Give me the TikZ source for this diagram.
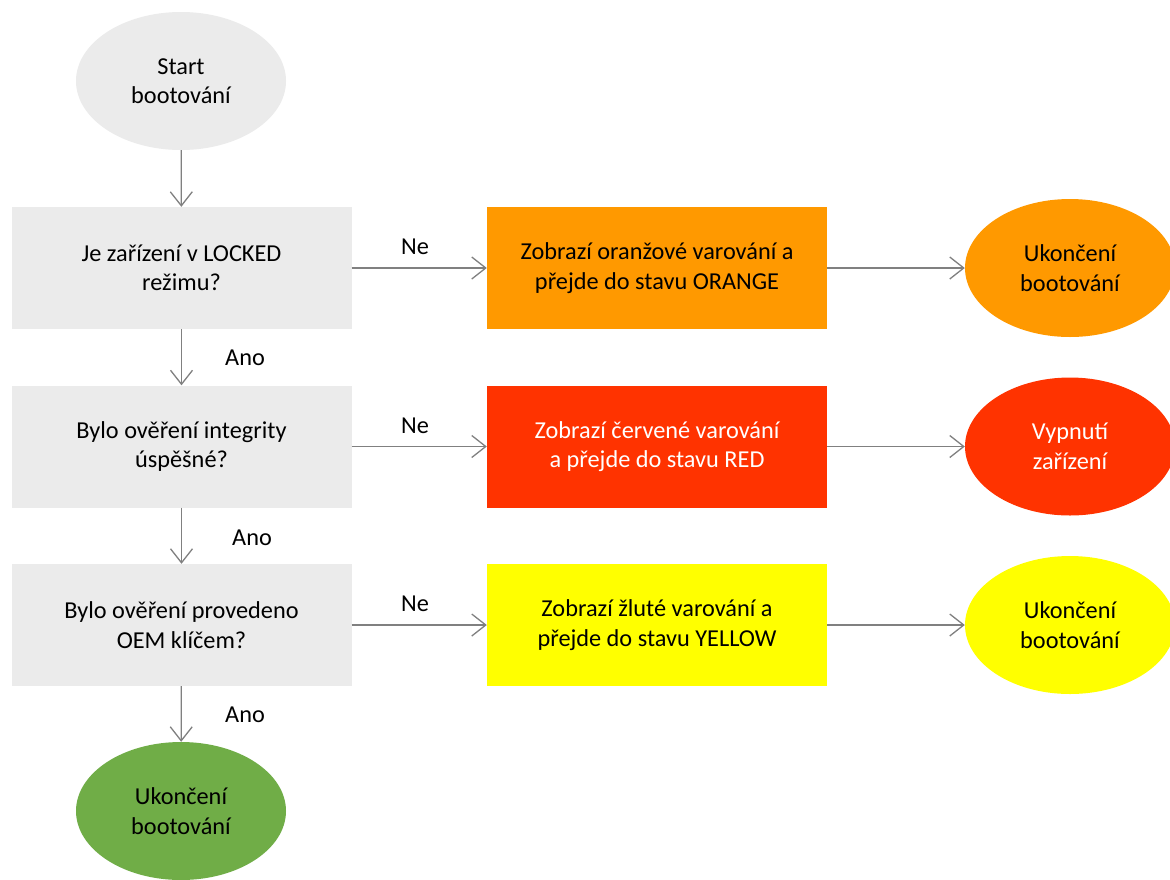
\documentclass[tikz,border=0pt]{standalone}
\usepackage{fontspec}
\setmainfont{Carlito}
\usetikzlibrary{arrows.meta,shapes.geometric}
\definecolor{boxgray}{HTML}{EBEBEB}
\definecolor{arrgray}{HTML}{808080}
\definecolor{ora}{HTML}{FF9900}
\definecolor{redc}{HTML}{FF3300}
\definecolor{yel}{HTML}{FFFF00}
\definecolor{grn}{HTML}{70AD47}
\begin{document}
\begin{tikzpicture}[x=1pt,y=-1pt,
  every node/.style={font=\fontsize{24.3}{29.5}\selectfont, align=center, inner sep=0pt},
  qbox/.style={rectangle, minimum width=340pt, minimum height=122pt, fill=boxgray},
  abox/.style={rectangle, minimum width=340pt, minimum height=122pt},
  term/.style={ellipse, minimum width=210pt, minimum height=138pt},
  conn/.style={draw=arrgray, line width=1.3pt, -{Straight Barb[length=14pt,width=22pt,line width=1.3pt]}},
  lbl/.style={font=\fontsize{24.3}{29}\selectfont}]
\useasboundingbox (0,0) rectangle (1170,879);
\fill[white] (0,0) rectangle (1170,879);
\node[term, fill=boxgray] (start) at (181,81) {Start\\bootování};
\node[qbox] (q1) at (181.5,268) {Je zařízení v LOCKED\\režimu?};
\node[qbox] (q2) at (181.5,446.5) {Bylo ověření integrity\\úspěšné?};
\node[qbox] (q3) at (181.5,625) {Bylo ověření provedeno\\OEM klíčem?};
\node[abox, fill=ora] (a1) at (657,268) {Zobrazí oranžové varování a\\přejde do stavu ORANGE};
\node[abox, fill=redc, text=white] (a2) at (657,446.5) {Zobrazí červené varování\\a přejde do stavu RED};
\node[abox, fill=yel] (a3) at (657,625) {Zobrazí žluté varování a\\přejde do stavu YELLOW};
\node[term, fill=ora] (e1) at (1070,268) {Ukončení\\bootování};
\node[term, fill=redc, text=white] (e2) at (1070,446.5) {Vypnutí\\zařízení};
\node[term, fill=yel] (e3) at (1070,625) {Ukončení\\bootování};
\node[term, fill=grn] (e4) at (181,811) {Ukončení\\bootování};
\draw[conn] (start) -- (q1);
\draw[conn] (q1) -- (q2);
\draw[conn] (q2) -- (q3);
\draw[conn] (q3) -- (e4);
\draw[conn] (q1) -- (a1);
\draw[conn] (q2) -- (a2);
\draw[conn] (q3) -- (a3);
\draw[conn] (a1) -- (e1);
\draw[conn] (a2) -- (e2);
\draw[conn] (a3) -- (e3);
\node[lbl] (n1) at (415,247) {Ne};
\node[lbl] (n2) at (415,426) {Ne};
\node[lbl] (n3) at (415,604) {Ne};
\node[lbl] (y1) at (245,358) {Ano};
\node[lbl] (y2) at (252,538) {Ano};
\node[lbl] (y3) at (245,715) {Ano};
\end{tikzpicture}
\end{document}
